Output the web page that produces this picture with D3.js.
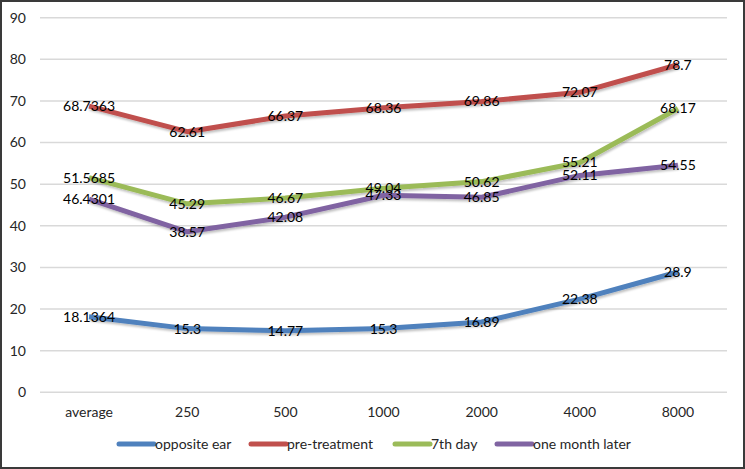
<!DOCTYPE html>
<html>
<head>
<meta charset="utf-8">
<script src="https://cdn.jsdelivr.net/npm/d3@7"></script>
<style>
  body { margin: 0; background: #fff; }
  svg { display: block; font-family: Lato, "Open Sans", sans-serif; }
</style>
</head>
<body>
<svg id="chart" width="745" height="469"></svg>
<script>
    "use strict";

    // chart data
    const categories = ["average", "250", "500", "1000", "2000", "4000", "8000"];
    const seriesNames = ["opposite ear", "pre-treatment", "7th day", "one month later"];
    const oppositeEar = [18.1364, 15.3, 14.77, 15.3, 16.89, 22.38, 28.9];
    const preTreatment = [68.7363, 62.61, 66.37, 68.36, 69.86, 72.07, 78.7];
    const seventhDay = [51.5685, 45.29, 46.67, 49.04, 50.62, 55.21, 68.17];
    const oneMonthLater = [46.4301, 38.57, 42.08, 47.33, 46.85, 52.11, 54.55];
    const yTicks = [0, 10, 20, 30, 40, 50, 60, 70, 80, 90];
    const colors = ["#4f81bd", "#c0504d", "#9bbb59", "#8064a2"];

    const series = [oppositeEar, preTreatment, seventhDay, oneMonthLater].map((values, i) => ({
        name: seriesNames[i],
        color: colors[i],
        values: values
    }));

    var svg = d3.select("svg#chart"),
        width = +svg.attr("width"),
        height = +svg.attr("height"),
        plotLeft = 40,
        plotRight = 727,
        plotTop = 17.7,
        plotBottom = 392.3,
        fontSize = 14;

    var x = d3.scaleBand()
        .domain(categories)
        .range([plotLeft, plotRight]);

    var y = d3.scaleLinear()
        .domain([0, 90])
        .range([plotBottom, plotTop]);

    var cx = (c) => x(c) + x.bandwidth() / 2;

    // outer border
    svg.append("rect")
        .attr("x", 1).attr("y", 1)
        .attr("width", width - 2).attr("height", height - 2)
        .attr("fill", "#fff")
        .attr("stroke", "#3a3a3a")
        .attr("stroke-width", 2);

    var defs = svg.append("defs");
    var shadow = defs.append("filter").attr("id", "shadow")
        .attr("x", "-10%").attr("y", "-30%").attr("width", "120%").attr("height", "160%");
    shadow.append("feDropShadow")
        .attr("dx", 1).attr("dy", 2).attr("stdDeviation", 1.2)
        .attr("flood-color", "#000").attr("flood-opacity", 0.25);

    // gridlines
    svg.append("g")
        .selectAll("line")
        .data(yTicks)
        .enter().append("line")
            .attr("x1", plotLeft).attr("x2", plotRight)
            .attr("y1", (d) => y(d)).attr("y2", (d) => y(d))
            .attr("stroke", "#d9d9d9")
            .attr("stroke-width", 1.5);

    // y tick labels
    svg.append("g")
        .selectAll("text")
        .data(yTicks)
        .enter().append("text")
            .attr("x", 26)
            .attr("y", (d) => y(d))
            .attr("dy", "0.35em")
            .attr("text-anchor", "end")
            .attr("font-size", fontSize)
            .attr("fill", "#262626")
            .text((d) => d);

    // x tick labels
    svg.append("g")
        .selectAll("text")
        .data(categories)
        .enter().append("text")
            .attr("x", (d) => cx(d))
            .attr("y", 412)
            .attr("dy", "0.35em")
            .attr("text-anchor", "middle")
            .attr("font-size", fontSize)
            .attr("fill", "#262626")
            .text((d) => d);

    var line = d3.line()
        .x((d, i) => cx(categories[i]))
        .y((d) => y(d));

    // series lines
    svg.append("g")
        .selectAll("path")
        .data(series)
        .enter().append("path")
            .attr("d", (d) => line(d.values))
            .attr("fill", "none")
            .attr("stroke", (d) => d.color)
            .attr("stroke-width", 5)
            .attr("stroke-linejoin", "round")
            .attr("filter", "url(#shadow)");

    // data labels, centred on their points
    series.forEach(function(s) {
        svg.append("g")
            .selectAll("text")
            .data(s.values)
            .enter().append("text")
                .attr("x", (d, i) => cx(categories[i]))
                .attr("y", (d) => y(d))
                .attr("dy", "0.35em")
                .attr("text-anchor", "middle")
                .attr("font-size", fontSize)
                .attr("fill", "#000")
                .text((d) => d);
    });

    // legend
    var legendX = [119, 251, 395, 497];
    var legend = svg.append("g")
        .selectAll("g")
        .data(series)
        .enter().append("g")
            .attr("transform", (d, i) => "translate(" + legendX[i] + ",444)");
    legend.append("line")
        .attr("x1", 0).attr("x2", 35)
        .attr("stroke", (d) => d.color)
        .attr("stroke-width", 5)
        .attr("stroke-linecap", "round");
    legend.append("text")
        .attr("x", 36)
        .attr("dy", "0.35em")
        .attr("font-size", fontSize)
        .attr("fill", "#262626")
        .text((d) => d.name);
</script>
</body>
</html>
